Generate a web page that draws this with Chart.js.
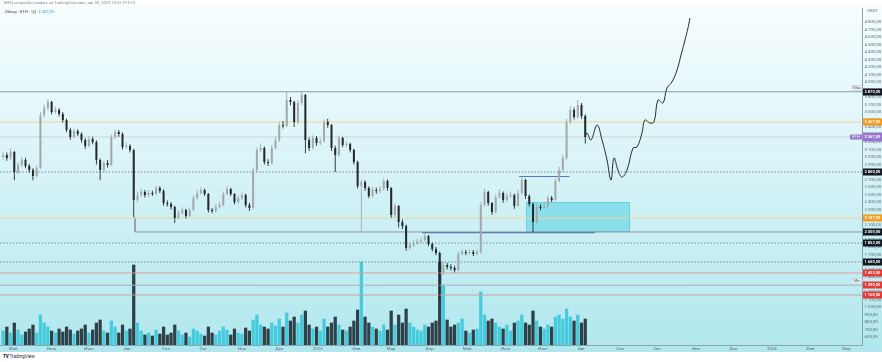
<!DOCTYPE html>
<html><head><meta charset="utf-8">
<script src="https://cdn.jsdelivr.net/npm/chart.js@4.4.1/dist/chart.umd.min.js"></script>
<style>
html,body{margin:0;padding:0;background:#fff;}
#wrap{position:relative;width:882px;height:362px;overflow:hidden;font-family:Roboto,"DejaVu Sans",sans-serif;}
#c{position:absolute;left:0;top:0;}
.title{position:absolute;left:4px;top:0px;font-size:4.1px;color:#7c8a8e;white-space:nowrap;line-height:6px}
.legend{position:absolute;left:5px;top:9px;font-size:4.1px;color:#3c4a4e;white-space:nowrap;line-height:6px}
.legend .v{color:#1fa9bd}
.tv{position:absolute;left:3px;top:354px;font-size:4.6px;color:#2a2e39;white-space:nowrap;line-height:6px}
.tv b{font-weight:900;letter-spacing:-0.3px}
</style></head>
<body><div id="wrap">
<canvas id="c" width="882" height="352"></canvas>
<div class="title">МУЦ создал(а) график на TradingView.com, авг 03, 2023 10:52 UTC+3</div>
<div class="legend">Обзор · ETH · 1Д &nbsp;<span class="v">3 267,00</span></div>
<div class="tv"><b>TV</b> TradingView</div>
</div>
<script>
// ---- data (days counted from 1 May 2022; prices in USDT) ----
const firstCandleDay = -8;
const candleStepDays = 3;
const opens = [3000,3027,2987,3067,2800,2893,2960,2880,2827,2747,
2853,3560,3653,3733,3600,3627,3573,3493,3360,3267,
3347,3307,3227,3147,3240,3200,2960,2827,2920,2893,
3267,3333,3307,3133,3147,3093,2427,2493,2533,2493,
2520,2507,2587,2547,2387,2373,2333,2187,2253,2293,
2213,2293,2453,2520,2560,2507,2293,2280,2333,2360,
2507,2573,2507,2400,2453,2493,2360,2320,2827,3093,
3120,2933,2920,3120,3227,3427,3413,3760,3733,3467,
3720,3827,3227,3120,3253,3187,3213,3467,3427,3120,
3027,3253,3160,3173,3093,2933,2613,2667,2587,2480,
2560,2547,2573,2680,2587,2227,2347,2133,2080,1787,
1827,1853,1880,1893,1947,1840,1773,1720,1467,1560,
1533,1520,1493,1707,1733,1720,1733,1707,1733,2360,
2533,2387,2267,2467,2520,2427,2480,2493,2347,2520,
2693,2480,2373,2133,2333,2320,2347,2453,2427,2680,
2827,2987,3467,3627,3533,3693,3547];
const closes = [3027,2987,3067,2800,2893,2960,2880,2827,2747,2853,
3560,3653,3733,3600,3627,3573,3493,3360,3267,3347,
3307,3227,3147,3240,3200,2960,2827,2920,2893,3267,
3333,3307,3133,3147,3093,2427,2493,2533,2493,2520,
2507,2587,2547,2387,2373,2333,2187,2253,2293,2213,
2293,2453,2520,2560,2507,2293,2280,2333,2360,2507,
2573,2507,2400,2453,2493,2360,2320,2827,3093,3120,
2933,2920,3120,3227,3427,3413,3760,3733,3467,3720,
3827,3227,3120,3253,3187,3213,3467,3427,3120,3027,
3253,3160,3173,3093,2933,2613,2667,2587,2480,2560,
2547,2573,2680,2587,2227,2347,2133,2080,1787,1827,
1853,1880,1893,1947,1840,1773,1720,1467,1560,1533,
1520,1493,1707,1733,1720,1733,1707,1733,2360,2533,
2387,2267,2467,2520,2427,2480,2493,2347,2520,2693,
2480,2373,2133,2333,2320,2347,2453,2427,2680,2827,
2987,3467,3627,3533,3693,3547,3267];
const highs = [3070,3060,3110,3080,2930,3000,2990,2910,2850,2890,
3600,3700,3770,3750,3670,3650,3600,3510,3390,3380,
3370,3330,3250,3280,3270,3220,2980,2950,2960,3300,
3370,3360,3330,3190,3170,3110,2540,2580,2560,2560,
2550,2620,2610,2570,2420,2400,2350,2290,2330,2310,
2330,2490,2560,2600,2580,2520,2320,2370,2400,2540,
2610,2590,2520,2490,2530,2510,2390,2860,3130,3180,
3140,2970,3160,3270,3470,3480,3870,3800,3750,3760,
3880,3840,3260,3290,3280,3250,3500,3510,3440,3150,
3290,3270,3210,3190,3110,2950,2700,2690,2610,2600,
2590,2610,2720,2700,2600,2380,2360,2170,2100,1860,
1890,1910,1930,1980,1960,1860,1800,1740,1600,1590,
1570,1550,1740,1770,1760,1770,1760,1770,2400,2580,
2550,2400,2500,2570,2540,2520,2540,2510,2560,2730,
2710,2500,2390,2370,2370,2390,2490,2480,2720,2870,
3030,3510,3680,3660,3760,3720,3570];
const lows = [2960,2950,2960,2690,2770,2870,2850,2790,2690,2720,
2840,3520,3620,3570,3580,3540,3460,3330,3230,3250,
3280,3190,3110,3130,3170,2900,2690,2800,2860,2880,
3240,3270,3100,3110,3060,2200,2400,2470,2460,2470,
2480,2490,2520,2350,2340,2300,2120,2170,2230,2180,
2200,2280,2430,2500,2480,2260,2250,2260,2310,2340,
2490,2480,2370,2380,2430,2330,2280,2300,2800,3060,
2900,2880,2900,3100,3200,3380,3400,3690,3400,3440,
3690,3050,3080,3100,3150,3160,3190,3390,3080,2800,
3000,3130,3130,3060,2900,2580,2000,2550,2450,2460,
2510,2520,2550,2550,2190,2200,2060,2040,1750,1760,
1800,1830,1850,1870,1810,1740,1690,1090,1430,1500,
1490,1460,1480,1690,1690,1700,1680,1690,1710,2340,
2350,2230,2250,2440,2390,2400,2450,2310,2330,2500,
2440,2340,2000,2110,2290,2300,2320,2400,2410,2660,
2800,2960,3440,3500,3510,3510,3180];
const volumes = [140,180,120,220,150,100,130,160,200,120,
300,220,180,140,120,160,130,180,150,110,
140,160,200,120,150,220,250,140,120,240,
180,120,200,140,160,800,220,140,100,120,
90,150,110,180,100,120,200,140,100,120,
80,160,140,110,90,180,120,100,140,180,
150,100,160,120,110,170,140,250,300,200,
180,160,220,190,260,180,320,240,280,220,
300,340,200,160,180,140,260,180,220,280,
200,150,140,180,240,350,830,280,220,180,
160,140,200,150,340,200,300,220,360,220,
180,150,140,200,180,220,240,830,600,250,
180,200,220,260,140,120,150,160,530,300,
240,260,220,180,160,200,140,220,240,300,
220,200,340,240,180,160,200,180,280,300,
260,360,280,240,300,220,260];

// drawn projection path
const projDays = [459.8,461.4,464.6,469.5,473.5,477.5,480.7,483.1,486.3,489.5,493.6,498.4,501.6,505.6,508,512,515.3,518.5,522.5,525.7,529.7,533.8,537,540.2,542.6,544.2];
const projPrices = [3267,3320,3227,3427,3227,2960,2693,2987,2827,2733,2827,3120,3133,3320,3493,3453,3467,3760,3720,3920,4000,4160,4360,4560,4720,4853];

// horizontal levels
const levelPrices = [3870,3467,3267,2800,2187,2000,1853,1600,1453,1290,1160];
const rangeDays = [98,98,682.5];
const rangePrices = [2200,2000,2000];
const blueLowDays = [328.8,467.8];
const blueLowPrice = 1990;
const blueHighDays = [406.8,447.2];
const blueHighPrice = 2740;
const zoneDays = [412.4,496];
const zonePrices = [2000,2400];

// axes
const priceTicks = [600,700,800,900,1000,1100,1200,1300,1400,1500,1600,1700,1800,1900,2000,2100,2200,2300,2400,2500,2600,2700,2800,2900,3000,3100,3200,3300,3400,3500,3600,3700,3800,3900,4000,4100,4200,4300,4400,4500,4600,4700,4800];
const monthDays = [0,31,61,92,123,153,184,214,245,276,304,335,365,396,426,457,488,518,549,579,610,641,670];
const monthLabels = ['Май','Июн','Июл','Авг','Сен','Окт','Ноя','Дек','2023','Фев','Мар','Апр','Май','Июн','Июл','Авг','Сен','Окт','Ноя','Дек','2024','Фев','Мар'];

// ---- styles ----
const X_MIN = -10.5, X_MAX = 682.5;
const UP = '#a3a8aa', DOWN = '#24282a';
const VOL_UP = '#45cbdc', VOL_DOWN = '#2f4148';
const FONT = 'Roboto, "DejaVu Sans", sans-serif';
const levelStyles = [
  {c:'#8d9a9e', d:[], from:X_MIN, tag:'#131722', side:'Max'},
  {c:'#f1d296', d:[], from:X_MIN, tag:'#f59c1a'},
  {c:'#c8d6d9', d:[], from:X_MIN, tag:'#9575cd', side:'ETH'},
  {c:'#667376', d:[1.2,2], from:X_MIN, tag:'#131722'},
  {c:'#f1d296', d:[], from:X_MIN, tag:'#f59c1a'},
  {c:null, d:[], from:X_MIN, tag:'#131722'},
  {c:'#667376', d:[1.2,2], from:X_MIN, tag:'#131722'},
  {c:'#667376', d:[1.2,2], from:X_MIN, tag:'#131722'},
  {c:'#e79a9a', d:[], from:X_MIN, tag:'#e53935'},
  {c:'#a9b4b7', d:[], from:X_MIN, tag:'#e53935', side:'Min'},
  {c:'#c6a79c', d:[], from:X_MIN, tag:'#e53935'}
];

function fmt(v){
  const s = String(Math.round(v)).replace(/\B(?=(\d{3})+(?!\d))/g,'\u00a0');
  return s + ',00';
}
const candleDays = opens.map((_, i) => firstCandleDay + i * candleStepDays);
const isUp = i => closes[i] >= opens[i];

const datasets = [];
datasets.push({type:'line', label:'proj', data: projDays.map((d,i)=>({x:d,y:projPrices[i]})),
  borderColor:'#2a2d2f', borderWidth:1, pointRadius:0, tension:0.4, order:0, yAxisID:'y'});
levelPrices.forEach((p,k)=>{
  const st = levelStyles[k];
  if(!st.c) return;
  datasets.push({type:'line', data:[{x:st.from,y:p},{x:X_MAX,y:p}], borderColor:st.c, borderWidth:1,
    borderDash:st.d, pointRadius:0, order:4, yAxisID:'y'});
});
datasets.push({type:'line', data: rangeDays.map((d,i)=>({x:d,y:rangePrices[i]})), borderColor:'#8d9a9e',
  borderWidth:1, pointRadius:0, tension:0, order:4, yAxisID:'y'});
datasets.push({type:'line', data: blueLowDays.map(d=>({x:d,y:blueLowPrice})), borderColor:'#4a64a8',
  borderWidth:1.2, pointRadius:0, order:3, yAxisID:'y'});
datasets.push({type:'line', data: blueHighDays.map(d=>({x:d,y:blueHighPrice})), borderColor:'#5a78b8',
  borderWidth:1.2, pointRadius:0, order:3, yAxisID:'y'});
datasets.push({type:'bar', label:'wicks', data: candleDays.map((d,i)=>({x:d,y:[lows[i],highs[i]]})),
  backgroundColor: c => isUp(c.dataIndex) ? UP : DOWN, grouped:false, maxBarThickness:0.9,
  order:2, yAxisID:'y'});
datasets.push({type:'bar', label:'bodies', data: candleDays.map((d,i)=>({x:d,y:[opens[i],closes[i]]})),
  backgroundColor: c => isUp(c.dataIndex) ? UP : DOWN, grouped:false, maxBarThickness:2, minBarLength:1,
  order:1, yAxisID:'y'});
datasets.push({type:'bar', label:'volume', data: candleDays.map((d,i)=>({x:d,y:volumes[i]})),
  backgroundColor: c => isUp(c.dataIndex) ? VOL_UP : VOL_DOWN, grouped:false, categoryPercentage:1, barPercentage:1,
  maxBarThickness:2.6, order:6, yAxisID:'yv'});

const bgPlugin = {
  id:'bg',
  beforeDraw(chart){
    const ctx = chart.ctx, w = chart.width, h = chart.height;
    ctx.save();
    ctx.fillStyle = '#ffffff'; ctx.fillRect(0,0,w,h);
    const g = ctx.createLinearGradient(0,6,0,h);
    g.addColorStop(0,'#f7fdfe'); g.addColorStop(0.45,'#d9f4f8'); g.addColorStop(1,'#b0e7ee');
    ctx.fillStyle = g; ctx.fillRect(0,6,w,h-6);
    ctx.restore();
  }
};
const zonePlugin = {
  id:'zone',
  beforeDatasetsDraw(chart){
    const {ctx, scales:{x,y}} = chart;
    const x0 = x.getPixelForValue(zoneDays[0]), x1 = x.getPixelForValue(zoneDays[1]);
    const y0 = y.getPixelForValue(zonePrices[1]), y1 = y.getPixelForValue(zonePrices[0]);
    ctx.save();
    ctx.fillStyle = 'rgba(72,206,224,0.5)';
    ctx.fillRect(x0,y0,x1-x0,y1-y0);
    ctx.strokeStyle = 'rgba(60,190,210,0.45)'; ctx.lineWidth = 1;
    ctx.strokeRect(x0+0.5,y0+0.5,x1-x0-1,y1-y0-1);
    ctx.restore();
  }
};
const tagPlugin = {
  id:'tags',
  afterDraw(chart){
    const {ctx, scales:{y}, chartArea} = chart;
    const ax = chartArea.right + 1;
    ctx.save();
    ctx.textBaseline = 'middle';
    ctx.font = '4.4px ' + FONT;
    ctx.fillStyle = '#5d6d72'; ctx.textAlign = 'left';
    ctx.fillText('USDT', ax + 4, 11);
    levelPrices.forEach((p,k)=>{
      const st = levelStyles[k];
      const py = Math.round(y.getPixelForValue(p));
      const hgt = st.tag === '#9575cd' ? 9 : 7;
      ctx.fillStyle = st.tag;
      ctx.fillRect(ax, py - hgt/2, 882 - ax, hgt);
      ctx.fillStyle = '#ffffff'; ctx.textAlign = 'left';
      ctx.font = 'bold 4px ' + FONT;
      ctx.fillText(fmt(p), ax + 1.5, py + 0.3);
      if (st.side){
        ctx.font = '4px ' + FONT;
        if (st.side === 'ETH'){
          ctx.fillStyle = st.tag; ctx.fillRect(ax - 13, py - 2.5, 12, 5);
          ctx.fillStyle = '#ffffff'; ctx.textAlign = 'center';
          ctx.fillText('ETH', ax - 7, py + 0.3);
        } else {
          const ty = py - 4;
          ctx.fillStyle = '#eef5f6'; ctx.fillRect(ax - 11, ty - 2.5, 10, 5);
          ctx.strokeStyle = '#b9c6c9'; ctx.lineWidth = 0.5; ctx.strokeRect(ax - 11, ty - 2.5, 10, 5);
          ctx.fillStyle = '#4d5a5e'; ctx.textAlign = 'center';
          ctx.fillText(st.side, ax - 6, ty + 0.3);
        }
      }
    });
    ctx.restore();
  }
};

new Chart(document.getElementById('c'), {
  type:'bar',
  data:{datasets},
  options:{
    responsive:false, animation:false, devicePixelRatio:1,
    layout:{padding:{top:8,left:0,right:0,bottom:0}},
    plugins:{legend:{display:false}, tooltip:{enabled:false}},
    scales:{
      x:{type:'linear', min:X_MIN, max:X_MAX, offset:false,
        grid:{display:false, drawTicks:false}, border:{display:true, color:'#8fa2a7'},
        ticks:{autoSkip:false, maxRotation:0, minRotation:0, padding:1.5, color:'#5d6d72',
          font:{size:4.4, family:FONT},
          callback:(v)=>{const k = monthDays.indexOf(v); return k >= 0 ? monthLabels[k] : '';}},
        afterBuildTicks:(s)=>{ s.ticks = monthDays.map(v=>({value:v})); },
        afterFit:(s)=>{ s.height = 7; }},
      y:{type:'linear', position:'right', min:493.3, max:4986.7,
        grid:{display:false, drawTicks:false}, border:{display:true, color:'#8fa2a7'},
        ticks:{autoSkip:false, padding:2.5, color:'#5d6d72',
          font:{size:4.4, family:FONT},
          callback:(v)=>fmt(v)},
        afterBuildTicks:(s)=>{ s.ticks = priceTicks.map(v=>({value:v})); },
        afterFit:(s)=>{ s.width = 20; }},
      yv:{type:'linear', display:false, min:0, max:3370}
    }
  },
  plugins:[bgPlugin, zonePlugin, tagPlugin]
});
</script>
</body></html>
